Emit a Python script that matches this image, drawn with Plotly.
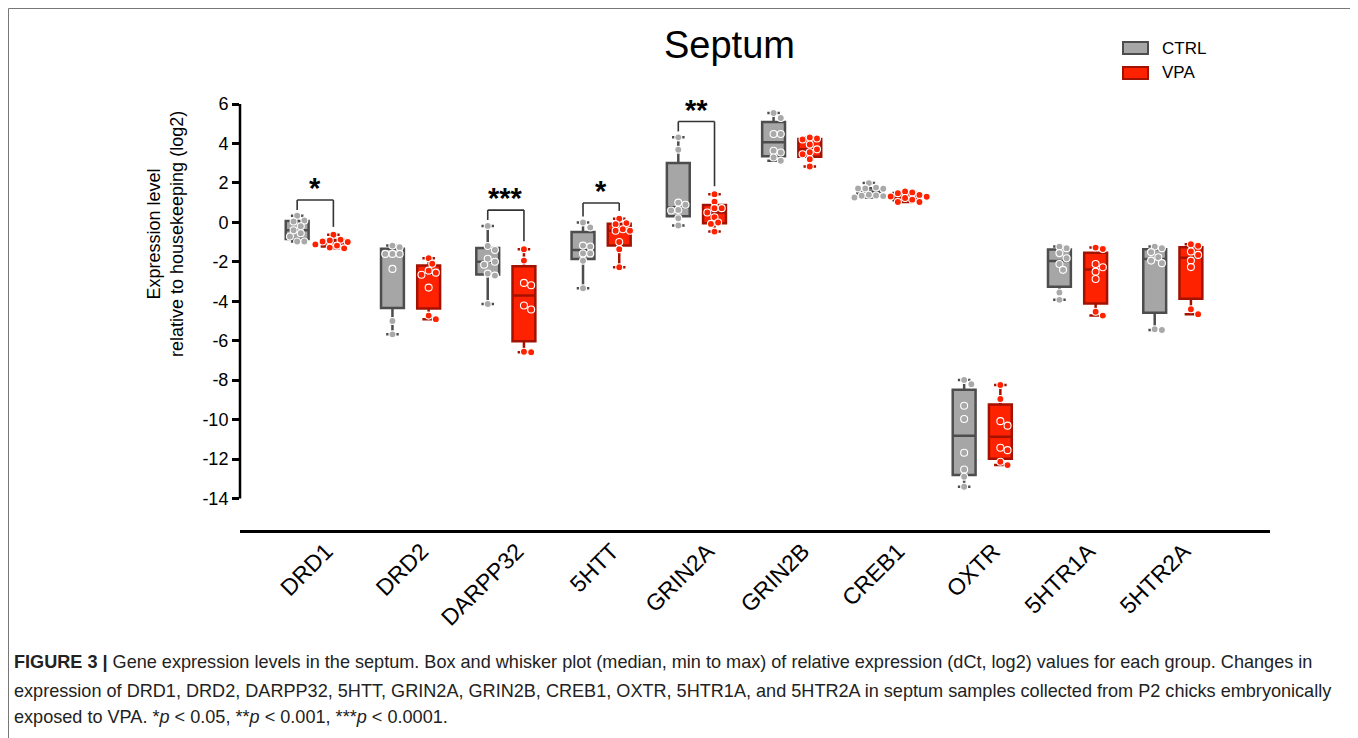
import numpy as np
import plotly.graph_objects as go

# ---------------- data ----------------
genes = ["DRD1", "DRD2", "DARPP32", "5HTT", "GRIN2A", "GRIN2B", "CREB1", "OXTR", "5HTR1A", "5HTR2A"]

ctrl_drd1 = [0.33, 0.09, 0.04, -0.2, -0.4, -0.55, -0.72, -0.97, -0.97]
vpa_drd1 = [-0.63, -0.88, -0.92, -0.97, -1.0, -1.12, -1.18, -1.28, -1.32]
ctrl_drd2 = [-1.18, -1.26, -1.6, -1.6, -1.6, -2.36, -5.0, -5.68]
vpa_drd2 = [-1.82, -2.1, -2.45, -2.55, -2.66, -3.31, -4.73, -4.91]
ctrl_darpp32 = [-0.18, -1.2, -1.4, -1.85, -2.0, -2.15, -2.6, -2.7, -4.14]
vpa_darpp32 = [-1.36, -1.94, -3.07, -3.19, -4.22, -4.42, -6.56, -6.59]
ctrl_5htt = [-0.01, -0.26, -1.18, -1.23, -1.58, -1.58, -1.95, -3.34]
vpa_5htt = [0.18, -0.04, -0.1, -0.35, -0.43, -0.43, -1.0, -1.36, -2.28]
ctrl_grin2a = [4.31, 3.68, 1.0, 0.89, 0.63, 0.6, 0.21, -0.16]
vpa_grin2a = [1.43, 1.05, 0.72, 0.72, 0.5, 0.26, -0.01, -0.08, -0.47]
ctrl_grin2b = [5.54, 5.29, 4.48, 4.48, 3.63, 3.54, 3.29, 3.12]
vpa_grin2b = [4.3, 4.25, 4.2, 3.95, 3.7, 3.55, 3.45, 3.2, 2.83]
ctrl_creb1 = [1.99, 1.76, 1.72, 1.72, 1.7, 1.4, 1.36, 1.35, 1.33, 1.26]
vpa_creb1 = [1.56, 1.51, 1.48, 1.39, 1.31, 1.3, 1.23, 1.15, 1.03, 1.03]
ctrl_oxtr = [-7.99, -8.21, -9.3, -9.97, -11.68, -12.53, -12.9, -13.41]
vpa_oxtr = [-8.25, -8.96, -10.08, -10.31, -11.43, -11.55, -12.14, -12.31]
ctrl_5htr1a = [-1.23, -1.31, -1.56, -1.82, -2.11, -2.41, -3.56, -3.93]
vpa_5htr1a = [-1.28, -1.35, -2.11, -2.28, -2.5, -2.87, -4.53, -4.73]
ctrl_5htr2a = [-1.23, -1.31, -1.51, -1.77, -1.94, -2.07, -5.42, -5.46]
vpa_5htr2a = [-1.11, -1.19, -1.48, -1.65, -1.94, -2.27, -4.41, -4.66]

ctrl_values = [ctrl_drd1, ctrl_drd2, ctrl_darpp32, ctrl_5htt, ctrl_grin2a,
               ctrl_grin2b, ctrl_creb1, ctrl_oxtr, ctrl_5htr1a, ctrl_5htr2a]
vpa_values = [vpa_drd1, vpa_drd2, vpa_darpp32, vpa_5htt, vpa_grin2a,
              vpa_grin2b, vpa_creb1, vpa_oxtr, vpa_5htr1a, vpa_5htr2a]

sig_genes = ["DRD1", "DARPP32", "5HTT", "GRIN2A"]
sig_labels = ["*", "***", "*", "**"]

y_ticks = [-14, -12, -10, -8, -6, -4, -2, 0, 2, 4, 6]
y_tick_labels = ["-14", "-12", "-10", "-8", "-6", "-4", "-2", "0", "2", "4", "6"]

caption_lines = [
    "<b>FIGURE 3 |</b> Gene expression levels in the septum. Box and whisker plot (median, min to max) of relative expression (dCt, log2) values for each group. Changes in",
    "expression of DRD1, DRD2, DARPP32, 5HTT, GRIN2A, GRIN2B, CREB1, OXTR, 5HTR1A, and 5HTR2A in septum samples collected from P2 chicks embryonically",
    "exposed to VPA. *<i>p</i> < 0.05, **<i>p</i> < 0.001, ***<i>p</i> < 0.0001.",
]

# ---------------- layout geometry ----------------
# the page body adds an 8px margin, so the figure is drawn 8px smaller / shifted
PAD = 8
W, H = 1358 - PAD, 738 - PAD
ML, MT = 240 - PAD, 104 - PAD
PLOT_R, PLOT_B = 1270 - PAD, 530 - PAD
MR, MB = W - PLOT_R, H - PLOT_B
XR = [-0.79, 10.02]
YR = [-15.6, 6.0]
PW, PH = W - ML - MR, H - MT - MB
XS = PW / (XR[1] - XR[0])   # px per x unit
YS = PH / (YR[1] - YR[0])   # px per y unit

OFF = 0.19
BOXW = 0.24

CTRL_FILL, CTRL_EDGE, CTRL_PT = "#a6a6a6", "#4d4d4d", "#a9a9a9"
VPA_FILL, VPA_EDGE, VPA_PT = "#ff2200", "#a31200", "#ff2200"
FONT = "Liberation Sans, Arial, Helvetica, sans-serif"


def swarm(vals, diam=7.2):
    vals = np.asarray(vals, dtype=float)
    order = np.argsort(-vals)
    placed = []
    offs = np.zeros(len(vals))
    cands = [0.0] + [s * k * diam / 2 for k in range(1, 14) for s in (1, -1)]
    for i in order:
        ypx = vals[i] * YS
        for c in cands:
            if all((c - px) ** 2 + (ypx - py) ** 2 >= (diam - 0.8) ** 2 for px, py in placed):
                placed.append((c, ypx))
                offs[i] = c / XS
                break
    return offs


def rx(px):   # reference-pixel x -> paper
    return (px - PAD - ML) / PW


def ry(py):   # reference-pixel y -> paper
    return (PLOT_B - (py - PAD)) / PH


fig = go.Figure()

groups = [("CTRL", ctrl_values, -OFF, CTRL_FILL, CTRL_EDGE, CTRL_PT),
          ("VPA", vpa_values, OFF, VPA_FILL, VPA_EDGE, VPA_PT)]

for name, vals, off, fill, edge, pt in groups:
    xs = [i + off for i in range(len(genes))]
    stats = [np.percentile(v, [25, 50, 75], method="weibull") for v in vals]
    fig.add_trace(go.Box(
        x=xs,
        q1=[s[0] for s in stats], median=[s[1] for s in stats], q3=[s[2] for s in stats],
        lowerfence=[min(v) for v in vals], upperfence=[max(v) for v in vals],
        width=BOXW, whiskerwidth=0.55, fillcolor=fill,
        line=dict(color=edge, width=2.5), boxpoints=False,
        name=name, showlegend=False, hoverinfo="skip",
    ))

for name, vals, off, fill, edge, pt in groups:
    px_, py_ = [], []
    for i, v in enumerate(vals):
        o = swarm(v)
        px_.extend(list(i + off + o))
        py_.extend(v)
    fig.add_trace(go.Scatter(
        x=px_, y=py_, mode="markers",
        marker=dict(size=7, color=pt, line=dict(color="white", width=1.1)),
        showlegend=False, hoverinfo="skip",
    ))

shapes = []
annotations = []

# significance brackets
for g, lab in zip(sig_genes, sig_labels):
    i = genes.index(g)
    cmax = max(ctrl_values[i])
    vmax = max(vpa_values[i])
    top = max(cmax, vmax) + 0.8
    xl, xr = i - OFF, i + OFF
    line = dict(color="#333333", width=1.6)
    shapes.append(dict(type="line", xref="x", yref="y", x0=xl, x1=xl, y0=cmax + 0.3, y1=top, line=line))
    shapes.append(dict(type="line", xref="x", yref="y", x0=xl, x1=xr, y0=top, y1=top, line=line))
    shapes.append(dict(type="line", xref="x", yref="y", x0=xr, x1=xr, y0=vmax + 0.4, y1=top, line=line))
    annotations.append(dict(x=i, y=top + 0.6, xref="x", yref="y", text="<b>" + lab + "</b>",
                            showarrow=False, yanchor="middle",
                            font=dict(size=29, color="black", family=FONT)))

# y axis line (only from -14 to 6)
shapes.append(dict(type="line", xref="paper", yref="y", x0=0, x1=0, y0=-14, y1=6,
                   line=dict(color="black", width=2.5)))

# frame
frame = dict(color="#777777", width=1)
shapes.append(dict(type="line", xref="paper", yref="paper",
                   x0=rx(8.5), x1=rx(8.5), y0=ry(745), y1=ry(8.5), line=frame))
shapes.append(dict(type="line", xref="paper", yref="paper",
                   x0=rx(8.5), x1=rx(1352.5), y0=ry(8.5), y1=ry(8.5), line=frame))
shapes.append(dict(type="line", xref="paper", yref="paper",
                   x0=rx(1352.5), x1=rx(1352.5), y0=ry(745), y1=ry(8.5), line=frame))

# legend (manual)
for k, (name, fill, edge) in enumerate([("CTRL", CTRL_FILL, CTRL_EDGE), ("VPA", VPA_FILL, VPA_EDGE)]):
    yc = 48 + 25 * k
    shapes.append(dict(type="rect", xref="paper", yref="paper",
                       x0=rx(1123), x1=rx(1148), y0=ry(yc + 6), y1=ry(yc - 6),
                       fillcolor=fill, line=dict(color=edge, width=2)))
    annotations.append(dict(x=rx(1160), y=ry(yc), xref="paper", yref="paper",
                            text=name, showarrow=False, xanchor="left", yanchor="middle",
                            font=dict(size=17, color="black", family=FONT)))

# title
annotations.append(dict(x=rx(729), y=ry(45), xref="paper", yref="paper",
                        text="Septum", showarrow=False, xanchor="center", yanchor="middle",
                        font=dict(size=38, color="black", family=FONT)))

# y axis title
annotations.append(dict(x=rx(166), y=ry(234), xref="paper", yref="paper",
                        text="Expression level<br>relative to housekeeping (log2)",
                        showarrow=False, textangle=-90, xanchor="center", yanchor="middle",
                        font=dict(size=18, color="black", family=FONT)))

# caption
for txt, yc in zip(caption_lines, [662, 691, 717]):
    annotations.append(dict(x=rx(12), y=ry(yc), xref="paper", yref="paper",
                            text=txt, showarrow=False, xanchor="left", yanchor="middle",
                            font=dict(size=18.1, color="#222222", family=FONT)))

fig.update_layout(
    width=W, height=H,
    margin=dict(l=ML, r=MR, t=MT, b=MB),
    paper_bgcolor="white", plot_bgcolor="white",
    showlegend=False,
    shapes=shapes, annotations=annotations,
    font=dict(family=FONT, color="black"),
    xaxis=dict(range=XR, tickvals=list(range(len(genes))), ticktext=genes,
               tickangle=-45, showgrid=False, zeroline=False,
               showline=True, linecolor="black", linewidth=2.5,
               ticks="", ticklabelshift=11, ticklabelstandoff=-4,
               tickfont=dict(size=23, color="black", family=FONT)),
    yaxis=dict(range=YR, tickvals=y_ticks, ticktext=y_tick_labels,
               showgrid=False, zeroline=False, showline=False,
               ticks="outside", ticklen=7, tickwidth=2.5, tickcolor="black",
               tickfont=dict(size=18, color="black", family=FONT)),
)

fig.write_html("out.html")
